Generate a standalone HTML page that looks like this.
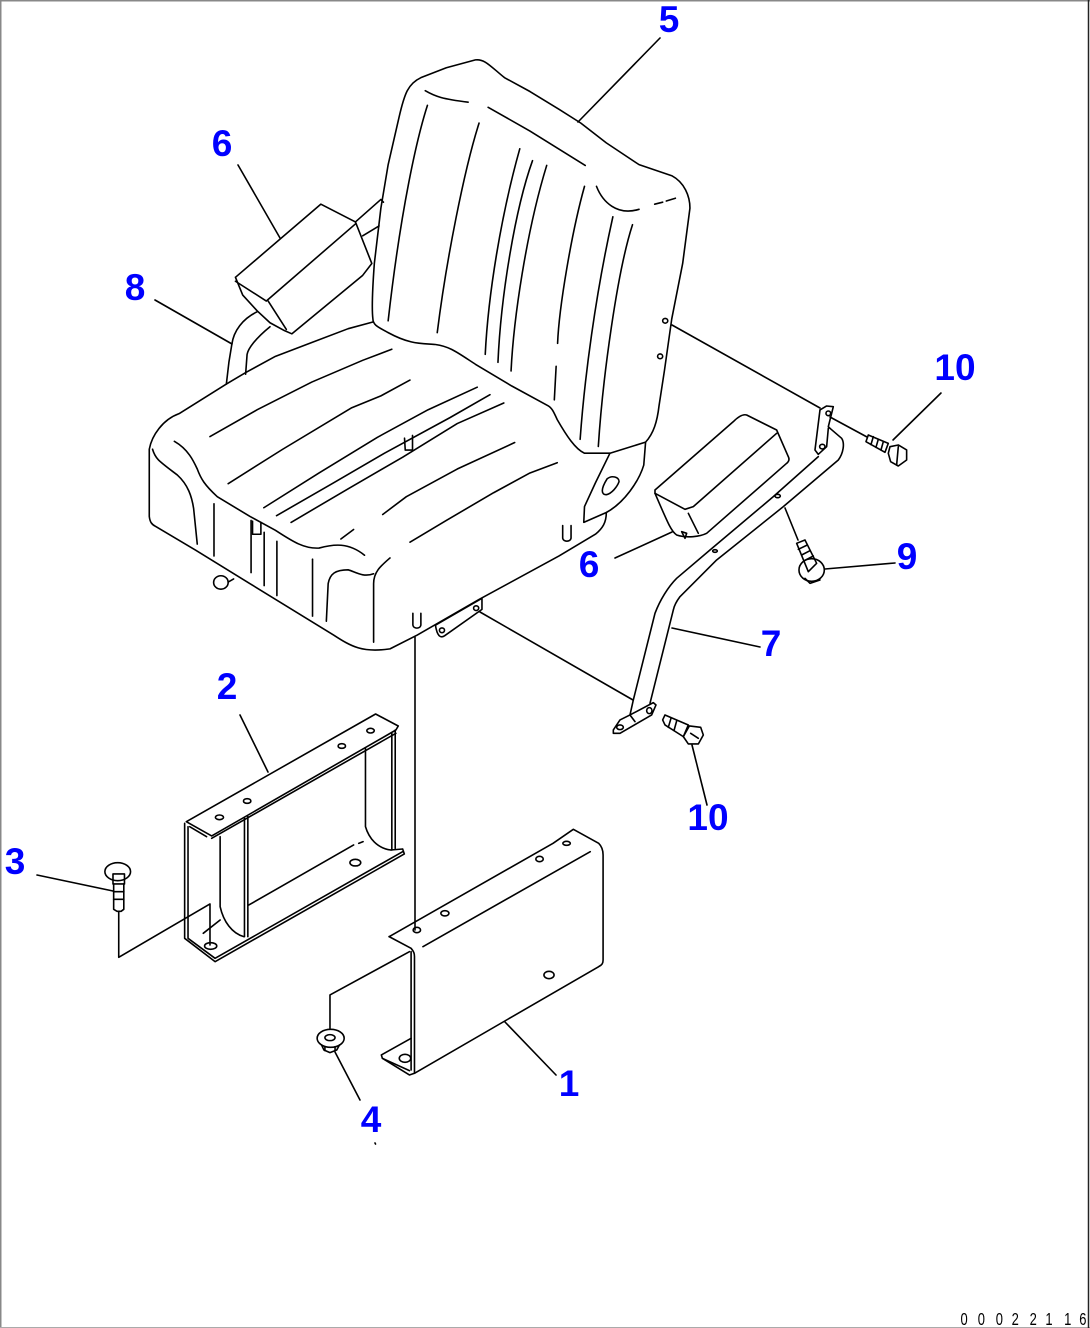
<!DOCTYPE html>
<html>
<head>
<meta charset="utf-8">
<style>
html,body{margin:0;padding:0;background:#fff;width:1090px;height:1328px;overflow:hidden}
svg{display:block}
polyline,line,ellipse,rect,path,polygon{fill:none;stroke:#000;stroke-width:1.6;stroke-linejoin:round;stroke-linecap:round;vector-effect:non-scaling-stroke}
text.n{font-family:"Liberation Sans",sans-serif;font-weight:700;font-size:37px;fill:#0000ff;text-anchor:middle}
text.c{font-family:"Liberation Sans",sans-serif;font-size:18px;fill:#000;text-anchor:middle}
</style>
</head>
<body>
<svg width="1090" height="1328" viewBox="0 0 1090 1328" xmlns="http://www.w3.org/2000/svg">
<defs><filter id="b" x="0" y="0" width="1" height="1" filterUnits="objectBoundingBox"><feGaussianBlur stdDeviation="0.3"/></filter></defs>
<rect x="0" y="0" width="1090" height="1328" style="fill:#fff;stroke:none"/>
<line x1="0.5" y1="0.5" x2="1090" y2="0.5" style="stroke:#888;stroke-width:2"/>
<line x1="0.5" y1="0" x2="0.5" y2="1328" style="stroke:#888;stroke-width:2"/>
<line x1="0" y1="1327.5" x2="1090" y2="1327.5" style="stroke:#aaa;stroke-width:1"/>
<line x1="1088.5" y1="0" x2="1088.5" y2="1328" style="stroke:#222;stroke-width:1.5"/>

<g filter="url(#b)">
<rect x="0" y="0" width="1090" height="1328" style="fill:none;stroke:none"/>
<!-- Seat group -->
<g transform="translate(130 50) scale(.3636 .3953)">
<path d="M668,680 C664,650 668,590 672,540 L690,400 L710,290 L740,170 C755,110 765,85 800,70 L870,45 L950,25 C975,22 990,40 1030,70 L1100,105 L1180,150 L1240,185 L1310,235 L1400,290 L1490,318 C1525,335 1540,370 1540,400 L1520,540 L1490,680 L1470,810 L1455,900 C1450,940 1440,970 1418,992 L1320,1020 L1250,1020 C1225,1010 1200,975 1175,935 C1165,915 1160,905 1150,900 L1050,850 L950,795 C900,765 880,750 840,745 C800,742 770,745 710,715 C680,700 668,695 668,680"/>
<path d="M668,688 L600,705 L500,740 L400,775 L320,815 L265,845 L135,920 C90,935 60,975 53,1010 L53,1180 C55,1195 60,1200 70,1205 L180,1265 L330,1350 L560,1480 C610,1510 640,1525 715,1515 L790,1480 L960,1390 L1180,1280 L1280,1225 C1300,1210 1310,1195 1310,1170"/>
<path d="M62,1010 C70,1035 80,1040 130,1075 C160,1100 170,1130 175,1160 L185,1250"/>
<path d="M122,990 C160,1010 175,1040 185,1060 C195,1085 205,1100 240,1130 L330,1180 L400,1215 C450,1245 480,1262 520,1260 C560,1250 600,1245 645,1278"/>
<line x1="580" y1="1237" x2="615" y2="1213"/>
<path d="M715,1285 C690,1305 670,1320 670,1350 L670,1498"/>
<path d="M540,1445 L545,1350 C550,1325 565,1315 600,1315 C620,1320 640,1335 670,1325"/>
<line x1="231" y1="1148" x2="231" y2="1280"/>
<line x1="333" y1="1190" x2="333" y2="1322"/>
<line x1="369" y1="1220" x2="369" y2="1355"/>
<line x1="404" y1="1243" x2="404" y2="1380"/>
<line x1="502" y1="1288" x2="502" y2="1432"/>
<polyline points="337,1192 337,1225 360,1225 360,1195"/>
<ellipse cx="250" cy="1347" rx="20" ry="17"/>
<line x1="285" y1="1338" x2="270" y2="1346"/>
<polyline points="220,978 350,910 500,840 640,785 720,757"/>
<polyline points="270,1097 420,1010 610,905 690,875 770,835"/>
<polyline points="368,1158 520,1070 680,980 820,910 955,853"/>
<polyline points="403,1178 560,1095 700,1020 880,930 990,872"/>
<polyline points="443,1195 600,1110 750,1030 900,945 1028,893"/>
<polyline points="755,982 757,1012 777,1012 777,975"/>
<polyline points="695,1175 760,1130 900,1060 1058,993"/>
<polyline points="770,1245 870,1190 1000,1120 1100,1070 1175,1044"/>
<path d="M812,103 C840,118 860,124 930,132"/>
<polyline points="985,145 1100,205 1252,292"/>
<path d="M818,140 C790,220 745,400 710,685"/>
<path d="M960,185 C920,300 870,530 845,715"/>
<path d="M1072,250 C1020,420 985,620 977,770"/>
<path d="M1107,280 C1060,400 1020,620 1012,790"/>
<path d="M1146,292 C1090,460 1055,680 1048,812"/>
<path d="M1250,345 C1215,460 1180,650 1176,742"/>
<line x1="1172" y1="800" x2="1167" y2="885"/>
<path d="M1328,422 C1280,620 1250,830 1238,985"/>
<path d="M1382,442 C1340,560 1300,830 1288,1003"/>
<path d="M1283,345 C1300,385 1340,420 1400,403"/>
<line x1="1443" y1="390" x2="1465" y2="385"/>
<line x1="1475" y1="382" x2="1500" y2="375"/>
<path d="M1320,1020 L1280,1095 L1250,1155 L1248,1195 L1310,1170 C1360,1145 1400,1090 1413,1050 L1418,992"/>
<path d="M1312,1085 C1325,1075 1345,1080 1345,1092 C1340,1105 1325,1122 1310,1125 C1295,1125 1295,1110 1312,1085"/>
<path d="M1190,1203 L1190,1235 C1192,1245 1211,1245 1213,1235 L1213,1203"/>
<path d="M778,1425 L778,1455 C780,1465 798,1465 800,1455 L800,1425"/>
<path d="M840,1455 L968,1387 L968,1415 L865,1482 C855,1488 845,1485 840,1455"/>
<ellipse cx="858" cy="1468" rx="7" ry="6"/>
<ellipse cx="952" cy="1412" rx="7" ry="6"/>
<ellipse cx="1472" cy="685" rx="7" ry="6"/>
<ellipse cx="1458" cy="775" rx="7" ry="6"/>
<!-- left armrest -->
<polyline points="290,575 525,390 620,435 665,540 640,570 445,718 425,710 385,690 350,660 310,620 290,575"/>
<polyline points="290,585 375,635 620,440"/>
<line x1="380" y1="635" x2="430" y2="707"/>
<path d="M350,662 C310,680 285,710 280,745 L272,790 L265,845"/>
<path d="M385,700 C345,730 325,755 322,770 L318,820"/>
<polyline points="620,435 690,378 697,385"/>
<line x1="640" y1="470" x2="685" y2="445"/>
</g>

<!-- Right arm group -->
<g transform="translate(570 390) scale(.3333)">
<path d="M255,300 L490,95 C505,80 520,72 530,75 L620,120 L655,200 C660,210 655,216 650,220 L410,430 C390,440 350,445 320,435 C305,425 298,410 255,310 L255,300"/>
<polyline points="255,310 345,358 370,350 620,130"/>
<line x1="355" y1="370" x2="385" y2="430"/>
<polyline points="335,425 350,430 345,445 335,425"/>
<path d="M745,200 L610,320 L420,480 L320,565 C295,590 270,630 255,670 L190,930 L180,975"/>
<path d="M780,115 L815,145 C825,160 820,190 805,210 L640,350 L440,510 L330,620 C315,640 312,650 310,660 L240,940"/>
<polyline points="750,60 770,48 790,50 775,110 780,115"/>
<polyline points="750,60 735,180 745,193 770,170 775,115"/>
<ellipse cx="757" cy="170" rx="8" ry="7"/>
<ellipse cx="775" cy="70" rx="7" ry="7"/>
<polyline points="130,1020 150,990 180,975 250,938 258,945 245,975 150,1030 130,1030 130,1020"/>
<ellipse cx="150" cy="1012" rx="10" ry="7"/>
<ellipse cx="238" cy="962" rx="8" ry="9"/>
<line x1="180" y1="975" x2="195" y2="995"/>
<ellipse cx="623" cy="318" rx="8" ry="5"/>
<ellipse cx="435" cy="483" rx="7" ry="4"/>
<!-- upper bolt -->
<polygon points="895,135 955,160 945,187 888,155"/>
<line x1="910" y1="140" x2="903" y2="164"/>
<line x1="925" y1="148" x2="918" y2="172"/>
<line x1="940" y1="155" x2="933" y2="180"/>
<polygon points="960,170 985,165 1010,180 1010,210 985,228 962,215 955,190"/>
<line x1="985" y1="170" x2="980" y2="225"/>
<!-- bolt 9 -->
<polygon points="680,460 705,450 740,520 715,545"/>
<line x1="685" y1="478" x2="712" y2="465"/>
<line x1="695" y1="495" x2="720" y2="482"/>
<line x1="703" y1="512" x2="730" y2="498"/>
<ellipse cx="725" cy="540" rx="38" ry="34"/>
<polyline points="705,565 720,580 750,570"/>
<!-- lower bolt -->
<polygon points="285,975 355,1005 340,1040 285,1005 278,990"/>
<line x1="303" y1="985" x2="295" y2="1012"/>
<line x1="320" y1="993" x2="312" y2="1022"/>
<polygon points="358,1008 392,1012 400,1035 385,1062 355,1062 340,1040"/>
<line x1="362" y1="1030" x2="385" y2="1045"/>
</g>

<!-- Brackets group -->
<g transform="translate(90 700) scale(.338 .3333)">
<polyline points="285,365 845,42 912,78 905,90 360,408 285,365"/>
<line x1="360" y1="415" x2="905" y2="100"/>
<polyline points="280,370 280,715 370,785 930,462 925,447 890,450"/>
<polyline points="290,380 290,715 370,775 925,455"/>
<line x1="295" y1="380" x2="345" y2="410"/>
<path d="M385,410 L385,620 C395,665 420,700 455,710"/>
<line x1="457" y1="355" x2="457" y2="710"/>
<line x1="467" y1="350" x2="467" y2="710"/>
<path d="M815,145 L815,380 C825,415 850,445 890,450"/>
<line x1="893" y1="100" x2="893" y2="450"/>
<line x1="903" y1="90" x2="903" y2="445"/>
<line x1="470" y1="615" x2="780" y2="435"/>
<line x1="795" y1="430" x2="808" y2="425"/>
<ellipse cx="383" cy="352" rx="12" ry="7"/>
<ellipse cx="465" cy="303" rx="11" ry="7"/>
<ellipse cx="745" cy="138" rx="11" ry="7"/>
<ellipse cx="830" cy="92" rx="11" ry="7"/>
<ellipse cx="785" cy="488" rx="16" ry="10"/>
<ellipse cx="357" cy="738" rx="18" ry="10"/>
<polyline points="85,635 85,772 355,612 355,735"/>
<line x1="335" y1="700" x2="385" y2="660"/>
<!-- bolt 3 -->
<ellipse cx="82" cy="515" rx="38" ry="27"/>
<rect x="68" y="522" width="34" height="30"/>
<polyline points="70,552 70,628 80,634 92,634 100,628 100,552"/>
<line x1="70" y1="575" x2="100" y2="575"/>
<line x1="70" y1="598" x2="100" y2="598"/>
<!-- bracket 1 -->
<path d="M885,710 L1370,430 L1430,388 L1505,430 C1515,440 1518,455 1518,465 L1518,780 C1518,790 1515,795 1505,800 L960,1120 L945,1125 L865,1075 L862,1065 L950,1015"/>
<path d="M885,710 L950,745 C958,755 960,760 960,770 L960,1120"/>
<line x1="950" y1="755" x2="950" y2="1110"/>
<line x1="985" y1="740" x2="1480" y2="455"/>
<line x1="865" y1="1075" x2="945" y2="1112"/>
<polyline points="945,755 710,885 710,985"/>
<ellipse cx="967" cy="690" rx="11" ry="8"/>
<ellipse cx="1050" cy="640" rx="12" ry="8"/>
<ellipse cx="1330" cy="477" rx="11" ry="8"/>
<ellipse cx="1410" cy="430" rx="11" ry="6"/>
<ellipse cx="1358" cy="825" rx="15" ry="11"/>
<ellipse cx="932" cy="1075" rx="17" ry="12"/>
<!-- nut 4 -->
<ellipse cx="712" cy="1015" rx="40" ry="27"/>
<ellipse cx="710" cy="1013" rx="15" ry="9"/>
<polyline points="685,1035 692,1050 710,1058 730,1050 738,1035"/>
<line x1="695" y1="1040" x2="695" y2="1052"/>
<line x1="725" y1="1040" x2="725" y2="1052"/>
</g>

<!-- Leaders and connectors -->
<line x1="238" y1="165" x2="280" y2="238"/>
<line x1="155" y1="300" x2="232" y2="344"/>
<line x1="660" y1="38" x2="578" y2="122"/>
<line x1="672" y1="325" x2="820" y2="408"/>
<line x1="830" y1="417" x2="867" y2="437"/>
<line x1="941" y1="393" x2="893" y2="440"/>
<line x1="895" y1="563" x2="825" y2="569"/>
<line x1="785" y1="508" x2="798" y2="540"/>
<line x1="760" y1="647" x2="672" y2="628"/>
<line x1="615" y1="558" x2="672" y2="532"/>
<line x1="480" y1="612" x2="633" y2="700"/>
<line x1="415" y1="637" x2="415" y2="930"/>
<line x1="556" y1="1075" x2="505" y2="1022"/>
<line x1="360" y1="1100" x2="335" y2="1052"/>
<line x1="240" y1="715" x2="268" y2="772"/>
<line x1="37" y1="875" x2="113" y2="891"/>
<line x1="707" y1="805" x2="692" y2="745"/>
<line x1="375" y1="1143" x2="375.5" y2="1144"/>
</g>

<!-- Labels -->
<text class="n" x="669" y="32">5</text>
<text class="n" x="222" y="156">6</text>
<text class="n" x="135" y="300">8</text>
<text class="n" x="955" y="380">10</text>
<text class="n" x="907" y="569">9</text>
<text class="n" x="589" y="577">6</text>
<text class="n" x="771" y="656">7</text>
<text class="n" x="227" y="699">2</text>
<text class="n" x="708" y="830">10</text>
<text class="n" x="15" y="874">3</text>
<text class="n" x="569" y="1096">1</text>
<text class="n" x="371" y="1132">4</text>

<g transform="translate(0 1325) scale(.72 1)">
<text class="c" x="1339">0</text>
<text class="c" x="1363">0</text>
<text class="c" x="1388">0</text>
<text class="c" x="1410">2</text>
<text class="c" x="1435">2</text>
<text class="c" x="1457">1</text>
<text class="c" x="1483">1</text>
<text class="c" x="1504">6</text>
</g>
</svg>
</body>
</html>
